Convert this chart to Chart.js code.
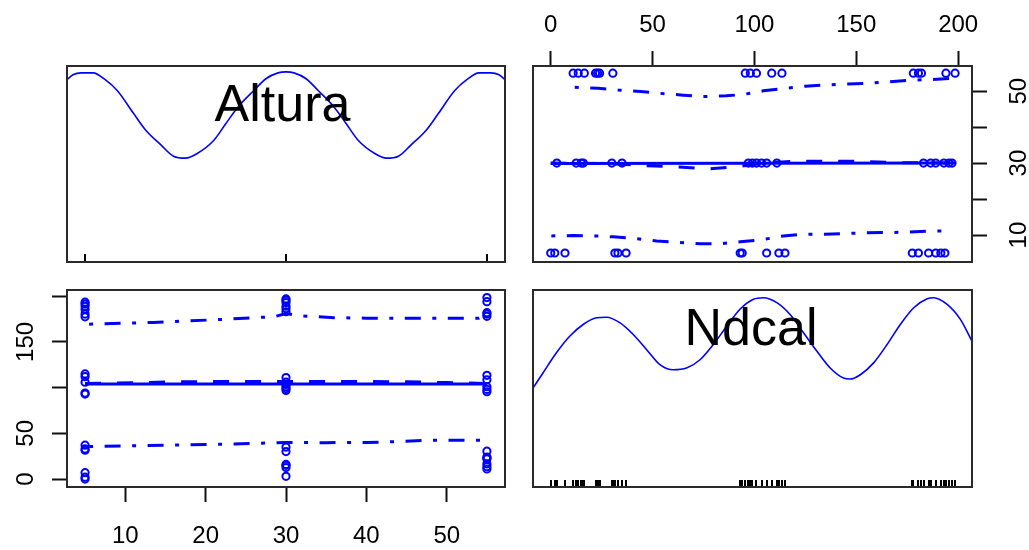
<!DOCTYPE html>
<html><head><meta charset="utf-8">
<script src="https://cdn.jsdelivr.net/npm/chart.js@4.4.1/dist/chart.umd.min.js"></script>
<style>
html,body{margin:0;padding:0;background:#fff;}
#wrap{position:relative;width:1029px;height:550px;overflow:hidden;}
canvas{position:absolute;left:0;top:0;}
</style></head><body>
<div id="wrap">
<canvas id="cTL" width="1029" height="550"></canvas>
<canvas id="cTR" width="1029" height="550"></canvas>
<canvas id="cBL" width="1029" height="550"></canvas>
<canvas id="cBR" width="1029" height="550"></canvas>
</div>
<script>
// ---------- data ----------
const variableNames = ['Altura', 'Ndcal'];
const alturaLevels = [5, 30, 55];
const ndcalAtAltura5  = [0, 2, 7, 31.5, 33, 37, 93, 94, 106, 112, 115, 177.5, 180.5, 185.5, 189, 191.5, 193.5];
const ndcalAtAltura30 = [3, 12.5, 15, 16, 30, 35, 97, 99, 101, 103.5, 106, 111, 183, 186.5, 189, 193, 195.5, 197];
const ndcalAtAltura55 = [11, 13.5, 16.5, 22, 23, 24, 30.5, 95.5, 98, 101, 108.5, 113.5, 178, 180.5, 182, 194, 198.5];

// tick values and labels
const ndcalTicks = [0, 50, 100, 150, 200];
const ndcalTopLabels = ['0', '50', '100', '150', '200'];
const ndcalLeftLabels = ['0', '50', '', '150', ''];
const alturaTicks = [10, 20, 30, 40, 50];
const alturaBottomLabels = ['10', '20', '30', '40', '50'];
const alturaRightLabels = ['10', '', '30', '', '50'];

// axis ranges
const alturaRange = [2.75, 57.25];
const alturaRangeTR = [2.5, 57.0];
const ndcalRange = [-8.7, 206.8];

// density of Altura (diagonal, top-left)
const alturaDensX = [2.75, 3.5, 4.5, 6, 7.5, 9, 11, 12.5, 14.5, 16, 17.5, 19, 21, 22.5, 24, 26, 27.5, 29, 30, 31, 32.5, 34, 36, 37.5, 39, 41, 42.5, 44, 45.5, 47.5, 49, 51, 52.5, 54, 55.5, 56.5, 57.25];
const alturaDensY = [0.0186, 0.0191, 0.0193, 0.0193, 0.0186, 0.0175, 0.0152, 0.0135, 0.0119, 0.0108, 0.0106, 0.0111, 0.0124, 0.0141, 0.0158, 0.0175, 0.0187, 0.0193, 0.0194, 0.0193, 0.0187, 0.0175, 0.0158, 0.0141, 0.0124, 0.0111, 0.0106, 0.0108, 0.0119, 0.0135, 0.0152, 0.0175, 0.0186, 0.0193, 0.0193, 0.0191, 0.0186];

// density of Ndcal (diagonal, bottom-right)
const ndcalDensX = [-8.7, -3.8, 2.8, 9.3, 15.9, 22.5, 27.4, 33.9, 40.5, 47.1, 53.6, 60.1, 66.7, 73.3, 79.8, 86.4, 92.9, 99.5, 104.4, 111, 117.5, 124.1, 130.7, 137.2, 143.7, 147, 152, 158.5, 165.1, 171.6, 178.2, 184.8, 188, 194.6, 201.1, 206.8];
const ndcalDensY = [0.00502, 0.00579, 0.00681, 0.00765, 0.00825, 0.00859, 0.00862, 0.00834, 0.00774, 0.00697, 0.00621, 0.00595, 0.00604, 0.00646, 0.00723, 0.00816, 0.00902, 0.00953, 0.00961, 0.00936, 0.00876, 0.00783, 0.00689, 0.00604, 0.00553, 0.00548, 0.00570, 0.00630, 0.00723, 0.00825, 0.00910, 0.00956, 0.00961, 0.00927, 0.00851, 0.00740];

// top-right panel: Altura ~ Ndcal
const trFitX = [0, 198.5];
const trFitY = [29.9, 30.0];
const trLoessX = [0, 25, 47, 63, 78, 93, 104, 120, 150, 170, 198.5];
const trLoessY = [30, 29.9, 29.3, 28.9, 28.4, 29.1, 30, 30.5, 30.5, 30.1, 30];
const trUpperX = [11.8, 23.3, 33.1, 44.1, 53.6, 65.1, 74.9, 86.1, 94.6, 104.4, 115.1, 124.9, 134.7, 145.4, 155.2, 165.9, 176.6, 186.4, 197];
const trUpperY = [51.1, 50.8, 50.3, 49.9, 49.4, 48.9, 48.5, 48.7, 49.1, 50.1, 50.8, 51.4, 51.7, 52.0, 52.2, 52.6, 53.1, 53.2, 53.6];
const trLowerX = [0.3, 11, 22.5, 30.6, 42.1, 52, 61.8, 73.3, 83.1, 93, 104.4, 114.2, 124.1, 132.3, 143.8, 153.6, 165.1, 174.9, 184.8, 193.8];
const trLowerY = [9.75, 9.85, 9.75, 9.5, 9.0, 8.35, 8.0, 7.6, 7.6, 8.1, 8.75, 9.75, 10.2, 10.2, 10.4, 10.6, 10.7, 10.8, 11.05, 11.15];

// bottom-left panel: Ndcal ~ Altura
const blFitX = [5, 55];
const blFitY = [104, 104];
const blLoessX = [5, 12, 17, 30, 45, 50, 55];
const blLoessY = [104.5, 105.5, 106.5, 106.8, 106.5, 105.5, 104.5];
const blUpperX = [5.5, 13.5, 18, 22, 26.5, 28.5, 30, 32, 36, 40, 45, 50, 54, 55];
const blUpperY = [169.4, 171.3, 173, 174.6, 176.8, 177.5, 181, 178.5, 176.5, 176, 176, 176, 176, 180];
const blLowerX = [5.5, 12, 18, 23, 28, 30, 35, 40, 44, 48, 55];
const blLowerY = [35.6, 36.5, 37.4, 38.2, 39.5, 40, 39.8, 40, 41, 42.5, 42.5];

// ---------- helpers ----------
const BLUE = '#0000FF';
const FONT = "'Liberation Sans', Arial, sans-serif";
const zip = (xs, ys) => xs.map((x, i) => ({x, y: ys[i]}));
const allNdcal = [].concat(ndcalAtAltura5, ndcalAtAltura30, ndcalAtAltura55);
const pairsAltNd = [].concat(
  ndcalAtAltura5.map(n => ({a: alturaLevels[0], n})),
  ndcalAtAltura30.map(n => ({a: alturaLevels[1], n})),
  ndcalAtAltura55.map(n => ({a: alturaLevels[2], n})));

const framePlugin = {
  id: 'frame',
  afterDraw(chart) {
    const {ctx, chartArea: a} = chart;
    ctx.save();
    ctx.strokeStyle = '#2a2a2a';
    ctx.lineWidth = 2;
    ctx.strokeRect(a.left, a.top, a.right - a.left, a.bottom - a.top);
    ctx.restore();
  }
};

const rugPlugin = {
  id: 'rug',
  afterDatasetsDraw(chart, args, opts) {
    if (!opts || !opts.values) return;
    const {ctx, chartArea: a} = chart;
    const sx = chart.scales.x;
    ctx.save();
    ctx.strokeStyle = '#000';
    ctx.lineWidth = 2;
    opts.values.forEach(v => {
      const px = Math.round(sx.getPixelForValue(v));
      ctx.beginPath();
      ctx.moveTo(px, a.bottom);
      ctx.lineTo(px, a.bottom - opts.length);
      ctx.stroke();
    });
    ctx.restore();
  }
};

const titlePlugin = {
  id: 'diagTitle',
  afterDatasetsDraw(chart, args, opts) {
    if (!opts || !opts.text) return;
    const {ctx, chartArea: a} = chart;
    ctx.save();
    ctx.fillStyle = '#000';
    ctx.font = '52px ' + FONT;
    ctx.textAlign = 'center';
    ctx.textBaseline = 'alphabetic';
    ctx.fillText(opts.text, (a.left + a.right) / 2 - (opts.dx || 0), a.top + 55);
    ctx.restore();
  }
};

const labelPlugin = {
  id: 'axisLabels',
  afterDraw(chart, args, opts) {
    if (!opts || !opts.items) return;
    const {ctx} = chart;
    ctx.save();
    ctx.fillStyle = '#000';
    ctx.font = '24px ' + FONT;
    ctx.textBaseline = 'alphabetic';
    ctx.textAlign = 'center';
    opts.items.forEach(it => {
      const s = chart.scales[it.scale];
      it.ticks.forEach((v, i) => {
        const lab = it.labels[i];
        if (!lab) return;
        const p = s.getPixelForValue(v);
        if (it.rotate) {
          ctx.save();
          ctx.translate(it.base, p);
          ctx.rotate(-Math.PI / 2);
          ctx.fillText(lab, 0, 0);
          ctx.restore();
        } else {
          ctx.fillText(lab, p, it.base);
        }
      });
    });
    ctx.restore();
  }
};

function axisScale(pos, range, tickVals, size) {
  const horiz = pos === 'top' || pos === 'bottom';
  return {
    type: 'linear', position: pos, min: range[0], max: range[1],
    afterBuildTicks: s => { s.ticks = tickVals.map(v => ({value: v})); },
    afterFit: s => { if (horiz) s.height = size; else s.width = size; },
    ticks: {display: false},
    grid: {display: true, drawOnChartArea: false, drawTicks: true, tickLength: 15, tickWidth: 2, tickColor: '#111'},
    border: {display: false}
  };
}
function hiddenScale(range) {
  return {type: 'linear', display: false, min: range[0], max: range[1]};
}
function baseOptions(padding, scales, plugins) {
  return {
    responsive: false, animation: false, devicePixelRatio: 1, events: [],
    layout: {padding},
    scales,
    plugins: Object.assign({legend: {display: false}, tooltip: {enabled: false}}, plugins)
  };
}
function lineDs(xs, ys, width, dash, order) {
  return {type: 'line', data: zip(xs, ys), borderColor: BLUE, borderWidth: width, borderDash: dash || [],
    pointRadius: 0, fill: false, showLine: true, tension: 0, order: order || 1, clip: 2};
}
function curveDs(xs, ys) {
  return {type: 'line', data: zip(xs, ys), borderColor: BLUE, borderWidth: 1.6, pointRadius: 0,
    fill: false, showLine: true, cubicInterpolationMode: 'monotone', order: 1, clip: 0};
}
function pointDs(points) {
  return {type: 'scatter', data: points, pointStyle: 'circle', pointRadius: 3.6, borderWidth: 2,
    pointBorderColor: BLUE, pointBackgroundColor: 'rgba(0,0,0,0)', borderColor: BLUE,
    backgroundColor: 'rgba(0,0,0,0)', order: 2, showLine: false};
}
const plugs = [framePlugin, rugPlugin, titlePlugin, labelPlugin];

// ---------- top-left: density of Altura ----------
new Chart(document.getElementById('cTL'), {
  type: 'scatter',
  data: {datasets: [curveDs(alturaDensX, alturaDensY)]},
  options: baseOptions({left: 67, top: 66, right: 524, bottom: 288},
    {x: hiddenScale(alturaRange), y: hiddenScale([0, 0.02])},
    {rug: {values: alturaLevels, length: 8}, diagTitle: {text: variableNames[0], dx: 3.5}}),
  plugins: plugs
});

// ---------- top-right: Altura vs Ndcal ----------
new Chart(document.getElementById('cTR'), {
  type: 'scatter',
  data: {datasets: [
    pointDs(pairsAltNd.map(p => ({x: p.n, y: p.a}))),
    lineDs(trFitX, trFitY, 3, [], 1),
    lineDs(trLoessX, trLoessY, 3, [16, 16], 1),
    lineDs(trUpperX, trUpperY, 3, [4, 11.5, 16, 11.5], 1),
    lineDs(trLowerX, trLowerY, 3, [4, 11.5, 16, 11.5], 1)
  ]},
  options: baseOptions({left: 533, top: 0, right: 0, bottom: 288},
    {x: axisScale('top', ndcalRange, ndcalTicks, 66), y: axisScale('right', alturaRangeTR, alturaTicks, 57)},
    {axisLabels: {items: [
      {scale: 'x', ticks: ndcalTicks, labels: ndcalTopLabels, base: 32},
      {scale: 'y', ticks: alturaTicks, labels: alturaRightLabels, base: 1026, rotate: true}
    ]}}),
  plugins: plugs
});

// ---------- bottom-left: Ndcal vs Altura ----------
new Chart(document.getElementById('cBL'), {
  type: 'scatter',
  data: {datasets: [
    pointDs(pairsAltNd.map(p => ({x: p.a, y: p.n}))),
    lineDs(blFitX, blFitY, 3, [], 1),
    lineDs(blLoessX, blLoessY, 3, [16, 16], 1),
    lineDs(blUpperX, blUpperY, 3, [4, 11.5, 16, 11.5], 1),
    lineDs(blLowerX, blLowerY, 3, [4, 11.5, 16, 11.5], 1)
  ]},
  options: baseOptions({left: 0, top: 290, right: 524, bottom: 0},
    {x: axisScale('bottom', alturaRange, alturaTicks, 63), y: axisScale('left', ndcalRange, ndcalTicks, 67)},
    {axisLabels: {items: [
      {scale: 'x', ticks: alturaTicks, labels: alturaBottomLabels, base: 543},
      {scale: 'y', ticks: ndcalTicks, labels: ndcalLeftLabels, base: 33, rotate: true}
    ]}}),
  plugins: plugs
});

// ---------- bottom-right: density of Ndcal ----------
new Chart(document.getElementById('cBR'), {
  type: 'scatter',
  data: {datasets: [curveDs(ndcalDensX, ndcalDensY)]},
  options: baseOptions({left: 533, top: 290, right: 57, bottom: 63},
    {x: hiddenScale(ndcalRange), y: hiddenScale([0, 0.01])},
    {rug: {values: allNdcal, length: 7}, diagTitle: {text: variableNames[1], dx: 1.5}}),
  plugins: plugs
});
</script>
</body></html>
